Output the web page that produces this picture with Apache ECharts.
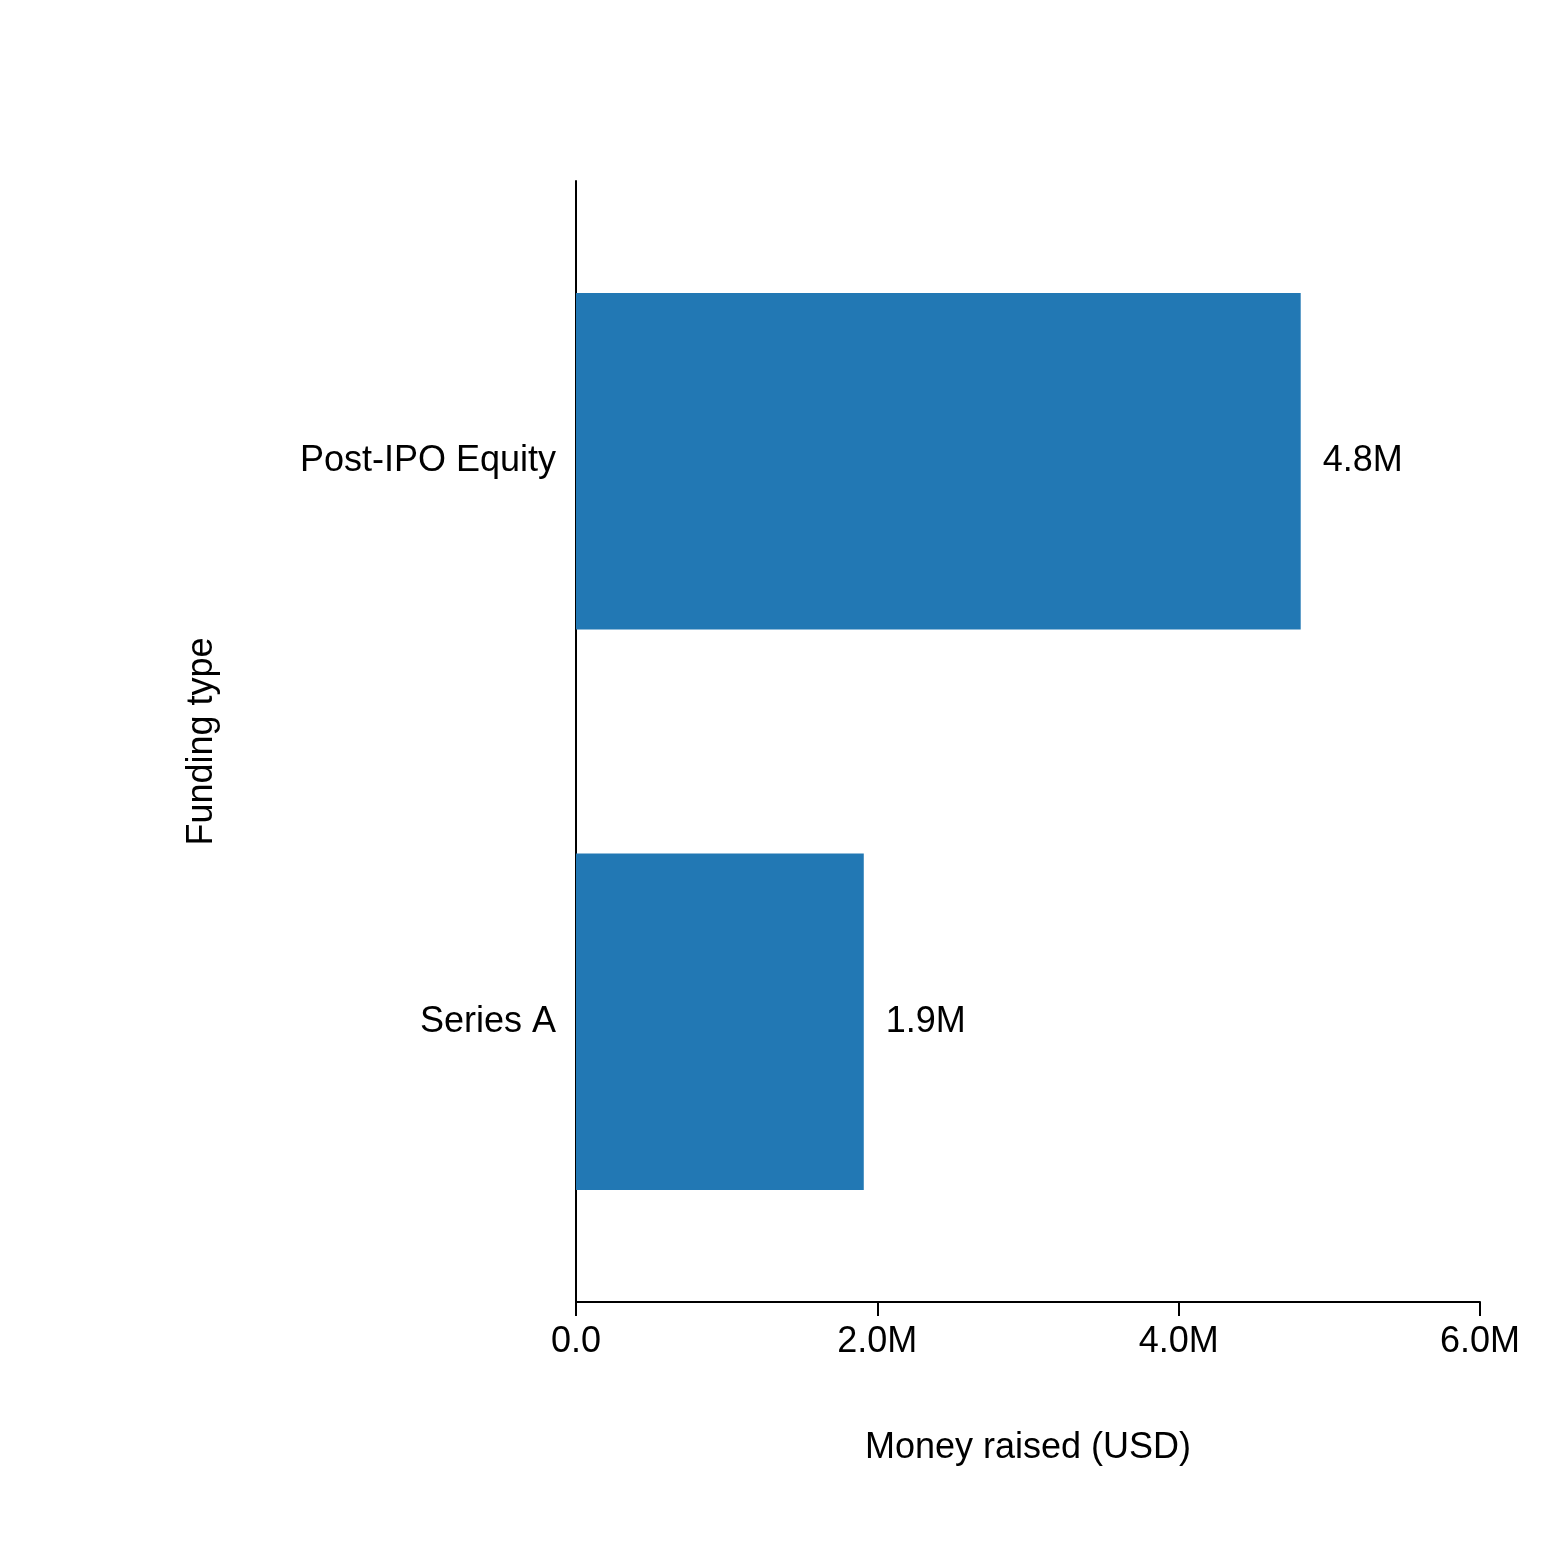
<!DOCTYPE html>
<html><head><meta charset="utf-8">
<script src="https://cdn.jsdelivr.net/npm/echarts@6/dist/echarts.min.js"></script>
<style>html,body{margin:0;padding:0;background:#fff}#c{width:1560px;height:1564px}</style>
</head><body><div id="c"></div>
<script>
const categories = ['Post-IPO Equity', 'Series A'];
const values = [4810000, 1910000];
const xTicks = [0, 2000000, 4000000, 6000000];
const fmt = v => v === 0 ? '0.0' : (v / 1e6).toFixed(1) + 'M';
const font = 'Liberation Sans, Arial, sans-serif';
const chart = echarts.init(document.getElementById('c'));
chart.setOption({
  animation: false,
  grid: { left: 576, right: 80, top: 181, bottom: 262 },
  xAxis: {
    type: 'value', min: 0, max: 6000000, interval: 2000000,
    name: 'Money raised (USD)', nameLocation: 'middle', nameGap: 128,
    nameTextStyle: { fontSize: 36, color: '#000', fontFamily: font },
    axisLine: { show: true, lineStyle: { color: '#000', width: 2 } },
    axisTick: { show: true, length: 14, lineStyle: { color: '#000', width: 2 } },
    axisLabel: { fontSize: 36, color: '#000', fontFamily: font, margin: 22, formatter: fmt },
    splitLine: { show: false }
  },
  yAxis: {
    type: 'category', data: categories, inverse: true,
    name: 'Funding type', nameLocation: 'middle', nameGap: 356,
    nameTextStyle: { fontSize: 36, color: '#000', fontFamily: font },
    axisLine: { show: true, lineStyle: { color: '#000', width: 2 } },
    axisTick: { show: false },
    axisLabel: { fontSize: 36, color: '#000', fontFamily: font, margin: 20 }
  },
  series: [{
    type: 'bar', data: values, barWidth: '60%',
    itemStyle: { color: '#2278b4' },
    label: { show: true, position: 'right', distance: 22, fontSize: 36, color: '#000', fontFamily: font, formatter: p => fmt(p.value) }
  }]
});
</script></body></html>
